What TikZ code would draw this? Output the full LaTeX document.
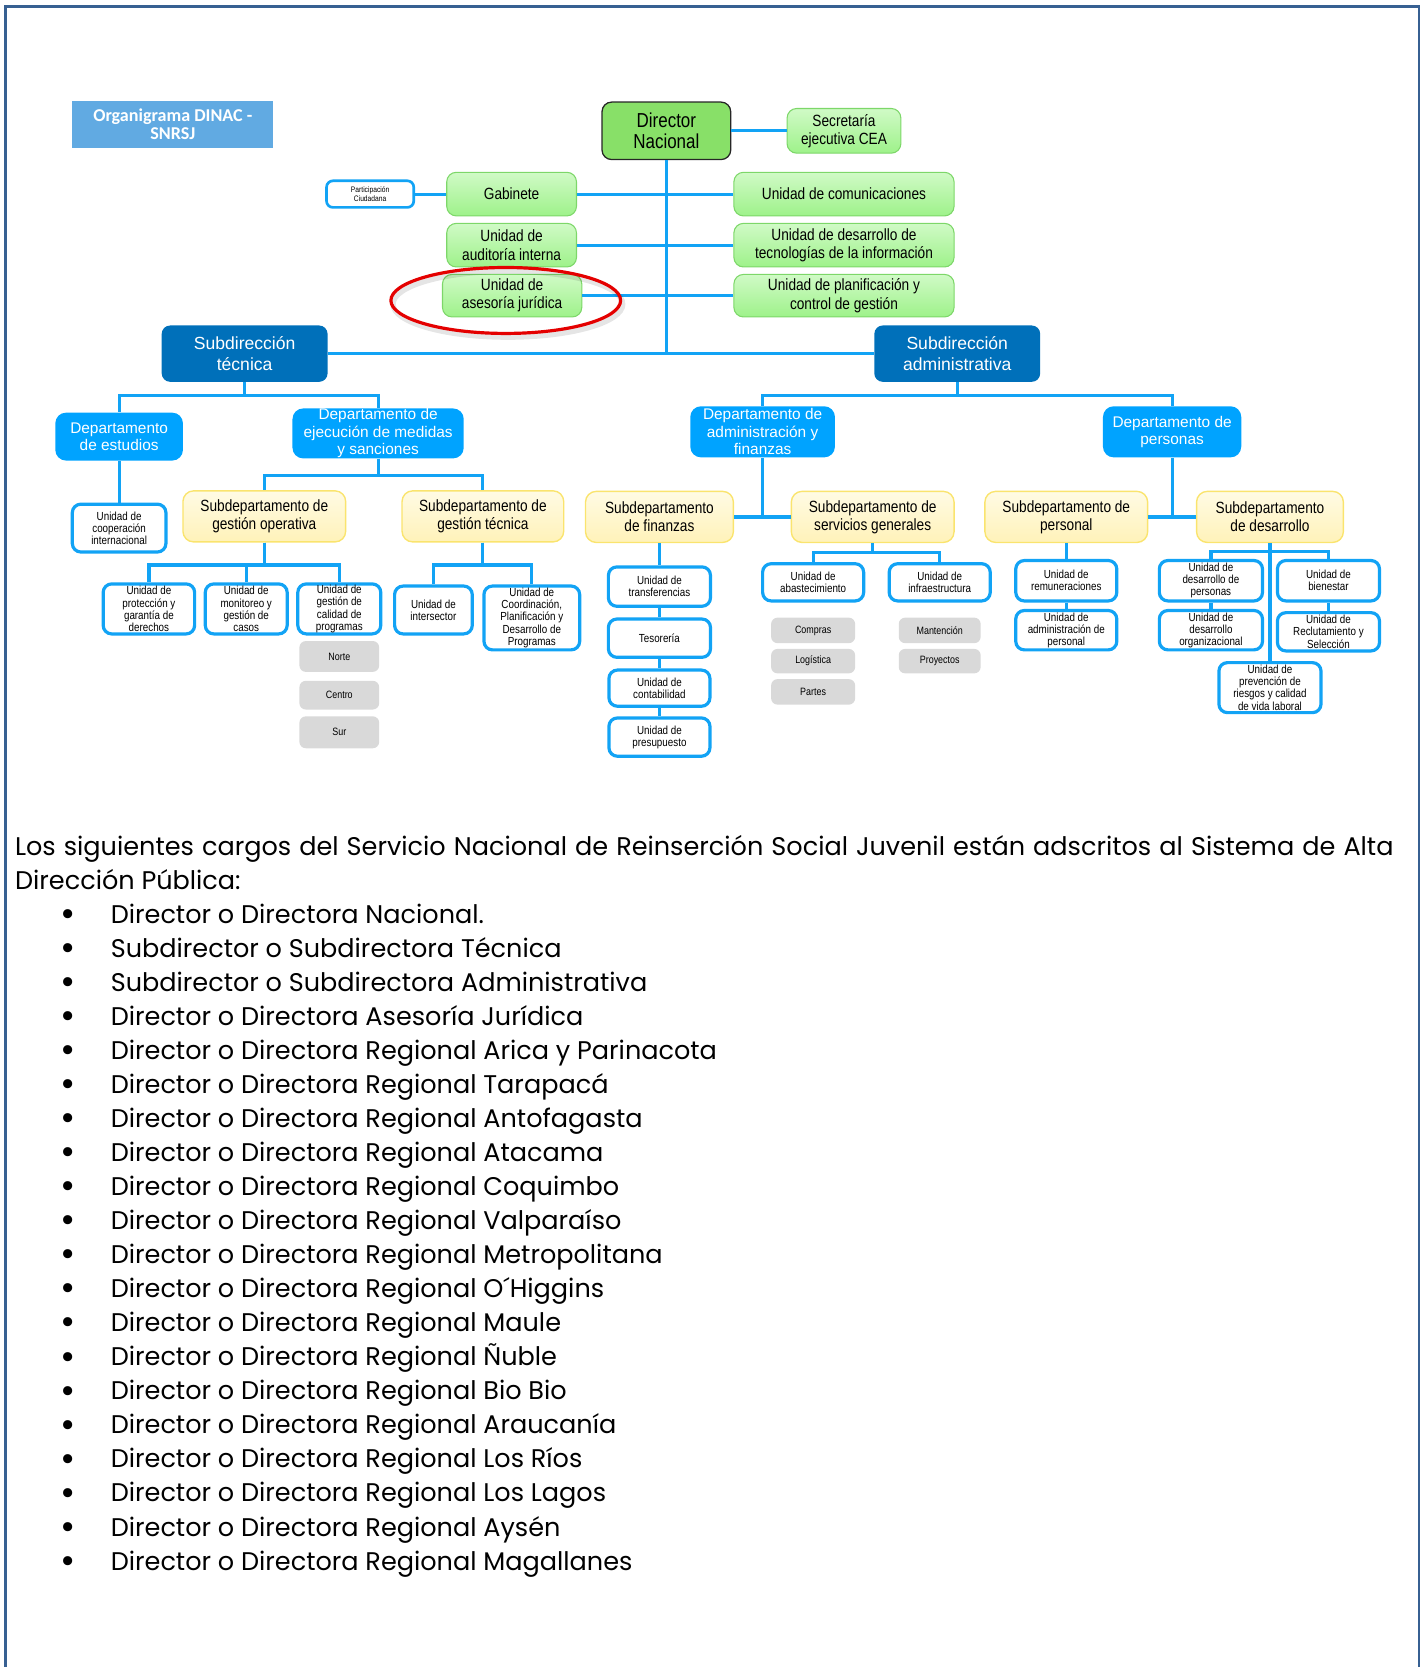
\documentclass[tikz,border=0pt]{standalone}
\usepackage{fontspec}
\setmainfont{Poppins}
\newfontfamily\narrowfont[FakeStretch=0.84]{Liberation Sans}
\newfontfamily\arialfont{Liberation Sans}
\newfontfamily\titlefont{Carlito}
\usepackage{enumitem}
\usepackage{xcolor}
\usepackage{tikz}
\usetikzlibrary{positioning}
\usetikzlibrary{shapes.geometric}

\definecolor{azullinea}{RGB}{18,163,245}
\definecolor{azulsub}{RGB}{0,112,186}
\definecolor{azuldep}{RGB}{0,163,255}
\definecolor{azultitulo}{RGB}{97,170,226}
\definecolor{verdedir}{RGB}{136,224,104}
\definecolor{verdeborde}{RGB}{125,215,105}
\definecolor{verdearriba}{RGB}{208,250,198}
\definecolor{verdeabajo}{RGB}{158,242,138}
\definecolor{amarilloborde}{RGB}{250,228,110}
\definecolor{amarilloarriba}{RGB}{255,251,228}
\definecolor{amarilloabajo}{RGB}{255,242,185}
\definecolor{grisclaro}{RGB}{217,217,217}
\definecolor{marco}{RGB}{55,96,146}

\newcommand{\vineta}{\raisebox{-3pt}[8pt][0pt]{\scalebox{1.45}{\textbullet}}}

\begin{document}
\begin{tikzpicture}[x=1pt, y=-1pt, every text node part/.style={align=center},
  linea/.style={line width=3pt, draw=azullinea},
  verde/.style={draw=verdeborde, line width=1pt, rounded corners=9pt, top color=verdearriba, bottom color=verdeabajo, inner sep=0pt, font=\narrowfont\fontsize{15.3}{17}\selectfont},
  amarilla/.style={draw=amarilloborde, line width=1.3pt, rounded corners=10pt, top color=amarilloarriba, bottom color=amarilloabajo, inner sep=0pt, minimum height=48pt, font=\narrowfont\fontsize{15.3}{17}\selectfont},
  unidad/.style={draw=azullinea, line width=3pt, rounded corners=8pt, fill=white, inner sep=0pt, font=\narrowfont\fontsize{11}{11.4}\selectfont},
  grisbox/.style={fill=grisclaro, rounded corners=6pt, inner sep=0pt, font=\narrowfont\fontsize{10}{11}\selectfont},
  subdireccion/.style={fill=azulsub, rounded corners=8pt, text=white, inner sep=0pt, minimum width=156pt, minimum height=53pt, font=\arialfont\fontsize{16.5}{19}\selectfont},
  departamento/.style={fill=azuldep, rounded corners=10pt, text=white, inner sep=0pt, font=\arialfont\fontsize{14.5}{16.5}\selectfont}]

\useasboundingbox (0,0) rectangle (1336,1567.3);
\draw [marco, line width=2.5pt] (5,1567.3) -- (5,6) -- (1334,6) -- (1334,1567.3);

\node (titulo) [fill=azultitulo, minimum width=189pt, minimum height=44pt, inner sep=0pt, text=white, font=\titlefont\bfseries\fontsize{17}{17}\selectfont] at (162.5,117) {Organigrama DINAC -\\SNRSJ};

% direccion nacional y unidades asesoras
\node (director nacional) [draw=black!85, line width=1.2pt, fill=verdedir, rounded corners=9pt, minimum width=121pt, minimum height=54pt, inner sep=0pt, font=\narrowfont\fontsize{19}{19.5}\selectfont] at (626.5,123) {Director\\Nacional};
\node (secretaria ejecutiva) [verde, minimum width=107pt, minimum height=42pt] at (793.5,123) {Secretaría\\ejecutiva CEA};
\node (gabinete) [verde, minimum width=122pt, minimum height=41pt] at (481,182.5) {Gabinete};
\node (participacion ciudadana) [unidad, line width=2.5pt, rounded corners=6pt, minimum width=82pt, minimum height=25pt, font=\narrowfont\fontsize{7.5}{8.5}\selectfont] at (348,182.5) {Participación\\Ciudadana};
\node (unidad de comunicaciones) [verde, minimum width=207pt, minimum height=41pt] at (793.5,182.5) {Unidad de comunicaciones};
\node (auditoria interna) [verde, minimum width=122pt, minimum height=41pt] at (481,230.5) {Unidad de\\auditoría interna};
\node (tecnologias) [verde, minimum width=207pt, minimum height=41pt] at (793.5,230.5) {Unidad de desarrollo de\\tecnologías de la información};
\node (asesoria juridica) [verde, minimum width=131pt, minimum height=40pt] at (481.5,278) {Unidad de\\asesoría jurídica};
\node (planificacion) [verde, minimum width=207pt, minimum height=40pt] at (793.5,278) {Unidad de planificación y\\control de gestión};

\node (subdireccion tecnica) [subdireccion] at (230,332.5) {Subdirección\\técnica};
\node (subdireccion administrativa) [subdireccion] at (900,332.5) {Subdirección\\administrativa};

% subdireccion tecnica
\node (departamento de estudios) [departamento, minimum width=120pt, minimum height=45pt] at (112,410.5) {Departamento\\de estudios};
\node (departamento de ejecucion) [departamento, minimum width=161pt, minimum height=47pt] at (355.5,407.5) {Departamento de\\ejecución de medidas\\y sanciones};
\node (cooperacion internacional) [unidad, minimum width=88pt, minimum height=45pt] at (112,496.5) {Unidad de\\cooperación\\internacional};
\node (gestion operativa) [amarilla, minimum width=153pt] at (248.5,485.5) {Subdepartamento de\\gestión operativa};
\node (gestion tecnica) [amarilla, minimum width=152pt] at (454,485.5) {Subdepartamento de\\gestión técnica};
\node (proteccion) [unidad, minimum width=86pt, minimum height=47pt] at (140,572.5) {Unidad de\\protección y\\garantía de\\derechos};
\node (monitoreo) [unidad, minimum width=77pt, minimum height=47pt] at (231.5,572.5) {Unidad de\\monitoreo y\\gestión de\\casos};
\node (calidad) [unidad, minimum width=78pt, minimum height=47pt] at (319,572.5) {Unidad de\\gestión de\\calidad de\\programas};
\node (norte) [grisbox, minimum width=75pt, minimum height=29pt, below=5pt of calidad] {Norte};
\node (centro) [grisbox, minimum width=75pt, minimum height=27pt, below=8pt of norte] {Centro};
\node (sur) [grisbox, minimum width=75pt, minimum height=30pt, below=6pt of centro] {Sur};
\node (intersector) [unidad, minimum width=73pt, minimum height=45pt] at (407.5,573.5) {Unidad de\\intersector};
\node (coordinacion) [unidad, minimum width=90pt, minimum height=60pt] at (500,581) {Unidad de\\Coordinación,\\Planificación y\\Desarrollo de\\Programas};

% subdireccion administrativa
\node (departamento de administracion) [departamento, minimum width=136pt, minimum height=48pt] at (717,406) {Departamento de\\administración y\\finanzas};
\node (departamento de personas) [departamento, minimum width=130pt, minimum height=48pt] at (1102,406) {Departamento de\\personas};
\node (finanzas) [amarilla, minimum width=139pt] at (620,486) {Subdepartamento\\de finanzas};
\node (servicios generales) [amarilla, minimum width=153pt] at (820.5,486) {Subdepartamento de\\servicios generales};
\node (transferencias) [unidad, minimum width=96pt, minimum height=37pt] at (620,551.5) {Unidad de\\transferencias};
\node (tesoreria) [unidad, minimum width=96pt, minimum height=36pt, below=9pt of transferencias] {Tesorería};
\node (contabilidad) [unidad, minimum width=95pt, minimum height=34pt, below=9pt of tesoreria] {Unidad de\\contabilidad};
\node (presupuesto) [unidad, minimum width=95pt, minimum height=36pt, below=8pt of contabilidad] {Unidad de\\presupuesto};
\node (abastecimiento) [unidad, minimum width=95pt, minimum height=35pt] at (764.5,547.5) {Unidad de\\abastecimiento};
\node (infraestructura) [unidad, minimum width=95pt, minimum height=35pt] at (883.5,547.5) {Unidad de\\infraestructura};
\node (compras) [grisbox, minimum width=79pt, minimum height=24pt, below=14pt of abastecimiento] {Compras};
\node (logistica) [grisbox, minimum width=79pt, minimum height=23pt, below=5pt of compras] {Logística};
\node (partes) [grisbox, minimum width=79pt, minimum height=24pt, below=5pt of logistica] {Partes};
\node (mantencion) [grisbox, minimum width=77pt, minimum height=24pt, below=14pt of infraestructura] {Mantención};
\node (proyectos) [grisbox, minimum width=77pt, minimum height=23pt, below=5pt of mantencion] {Proyectos};
\node (personal) [amarilla, minimum width=153pt] at (1002.5,486) {Subdepartamento de\\personal};
\node (desarrollo) [amarilla, minimum width=138pt] at (1194,486) {Subdepartamento\\de desarrollo};
\node (remuneraciones) [unidad, minimum width=95pt, minimum height=38pt] at (1002.5,546) {Unidad de\\remuneraciones};
\node (administracion de personal) [unidad, minimum width=95pt, minimum height=37pt, below=6pt of remuneraciones] {Unidad de\\administración de\\personal};
\node (desarrollo de personas) [unidad, minimum width=97pt, minimum height=38pt] at (1138.5,546) {Unidad de\\desarrollo de\\personas};
\node (desarrollo organizacional) [unidad, minimum width=97pt, minimum height=37pt, below=6pt of desarrollo de personas] {Unidad de\\desarrollo\\organizacional};
\node (bienestar) [unidad, minimum width=96pt, minimum height=38pt] at (1249,546) {Unidad de\\bienestar};
\node (reclutamiento) [unidad, minimum width=96pt, minimum height=36pt, below=8pt of bienestar] {Unidad de\\Reclutamiento y\\Selección};
\node (prevencion) [unidad, minimum width=96pt, minimum height=47pt] at (1194,646.5) {Unidad de\\prevención de\\riesgos y calidad\\de vida laboral};

% lineas
\draw [linea] (director nacional.east) -- (secretaria ejecutiva.west);
\draw [linea] (director nacional.south) -- (director nacional.south |- subdireccion tecnica.east);
\draw [linea] (participacion ciudadana.east) -- (gabinete.west);
\draw [linea] (gabinete.east) -- (unidad de comunicaciones.west);
\draw [linea] (auditoria interna.east) -- (tecnologias.west);
\draw [linea] (asesoria juridica.east) -- (planificacion.west);
\draw [linea] (subdireccion tecnica.east) -- (subdireccion administrativa.west);

\draw [linea] (subdireccion tecnica.south) -- ++(0,13) -| (departamento de estudios.north);
\draw [linea] (subdireccion tecnica.south) -- ++(0,13) -| (departamento de ejecucion.north);
\draw [linea] (departamento de estudios.south) -- (cooperacion internacional.north);
\draw [linea] (departamento de ejecucion.south) -- ++(0,16) -| (gestion operativa.north);
\draw [linea] (departamento de ejecucion.south) -- ++(0,16) -| (gestion tecnica.north);
\draw [linea] (gestion operativa.south) -- ++(0,21) -| (proteccion.north);
\draw [linea] (gestion operativa.south) -- ++(0,21) -| (monitoreo.north);
\draw [linea] (gestion operativa.south) -- ++(0,21) -| (calidad.north);
\draw [linea] (gestion tecnica.south) -- ++(0,21) -| (intersector.north);
\draw [linea] (gestion tecnica.south) -- ++(0,21) -| (coordinacion.north);

\draw [linea] (subdireccion administrativa.south) -- ++(0,13) -| (departamento de administracion.north);
\draw [linea] (subdireccion administrativa.south) -- ++(0,13) -| (departamento de personas.north);
\draw [linea] (departamento de administracion.south) -- (departamento de administracion.south |- finanzas.east);
\draw [linea] (finanzas.east) -- (servicios generales.west);
\draw [linea] (finanzas.south) -- (transferencias.north);
\draw [linea] (transferencias.south) -- (tesoreria.north);
\draw [linea] (tesoreria.south) -- (contabilidad.north);
\draw [linea] (contabilidad.south) -- (presupuesto.north);
\draw [linea] (servicios generales.south) -- ++(0,9) -| (abastecimiento.north);
\draw [linea] (servicios generales.south) -- ++(0,9) -| (infraestructura.north);

\draw [linea] (departamento de personas.south) -- (departamento de personas.south |- personal.east);
\draw [linea] (personal.east) -- (desarrollo.west);
\draw [linea] (personal.south) -- (remuneraciones.north);
\draw [linea] (remuneraciones.south) -- (administracion de personal.north);
\draw [linea] (desarrollo.south) -- (prevencion.north);
\draw [linea] (desarrollo.south) -- ++(0,8) -| (desarrollo de personas.north);
\draw [linea] (desarrollo.south) -- ++(0,8) -| (bienestar.north);
\draw [linea] (desarrollo de personas.south) -- (desarrollo organizacional.north);
\draw [linea] (bienestar.south) -- (reclutamiento.north);

% marca roja
\node (sombra) [ellipse, draw=black, draw opacity=0.1, line width=5pt, minimum width=216pt, minimum height=62pt] at (477.5,286) {};
\node (marca) [ellipse, draw={rgb,255:red,228;green,0;blue,0}, line width=3pt, minimum width=216pt, minimum height=62pt] at (475.5,282.5) {};

\node (cargos) [anchor=north west, inner sep=0pt, text width=1296pt, every text node part/.style={align=justify}, font=\fontsize{24}{32}\selectfont] at (14,785) {\makebox[\linewidth][s]{Los siguientes cargos del Servicio Nacional de Reinserción Social Juvenil están adscritos al Sistema de Alta}\\Dirección Pública:
\begin{itemize}[nosep, leftmargin=90pt, labelsep=33pt, label=\vineta]
\item Director o Directora Nacional.
\item Subdirector o Subdirectora Técnica
\item Subdirector o Subdirectora Administrativa
\item Director o Directora Asesoría Jurídica
\item Director o Directora Regional Arica y Parinacota
\item Director o Directora Regional Tarapacá
\item Director o Directora Regional Antofagasta
\item Director o Directora Regional Atacama
\item Director o Directora Regional Coquimbo
\item Director o Directora Regional Valparaíso
\item Director o Directora Regional Metropolitana
\item Director o Directora Regional O´Higgins
\item Director o Directora Regional Maule
\item Director o Directora Regional Ñuble
\item Director o Directora Regional Bio Bio
\item Director o Directora Regional Araucanía
\item Director o Directora Regional Los Ríos
\item Director o Directora Regional Los Lagos
\item Director o Directora Regional Aysén
\item Director o Directora Regional Magallanes
\end{itemize}};

\end{tikzpicture}
\end{document}
